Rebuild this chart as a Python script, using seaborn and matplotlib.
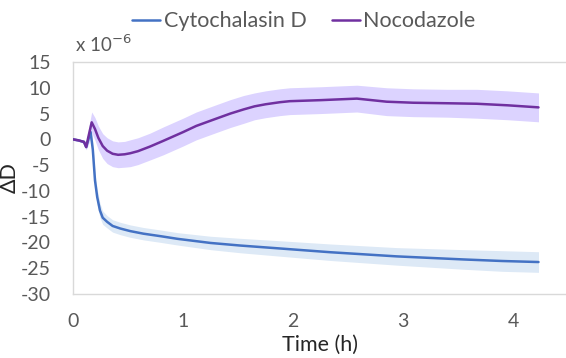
import matplotlib
matplotlib.use("Agg")
import matplotlib.pyplot as plt
import seaborn as sns
import pandas as pd

# Nocodazole response (units of 1e-6)
noco_time = [0, 0.05, 0.10, 0.12, 0.14, 0.17, 0.20, 0.23, 0.27, 0.31, 0.36, 0.41,
             0.47, 0.52, 0.59, 0.7, 0.82, 1.0, 1.12, 1.3, 1.43, 1.55, 1.65, 1.75,
             1.88, 1.97, 2.25, 2.58, 2.85, 3.09, 3.4, 3.67, 3.95, 4.23]
noco_mean = [0, -0.2, -0.5, -1.5, 0.5, 3.3, 2.0, 0.3, -1.3, -2.2, -2.8, -3.0,
             -2.9, -2.7, -2.3, -1.4, -0.3, 1.4, 2.6, 4.0, 5.0, 5.8, 6.4, 6.8,
             7.2, 7.4, 7.6, 7.9, 7.3, 7.1, 7.0, 6.9, 6.6, 6.2]
noco_sd = [0.2, 0.2, 0.3, 0.5, 1.5, 2.0, 2.2, 2.3, 2.4, 2.5, 2.5, 2.5,
           2.5, 2.6, 2.6, 2.6, 2.7, 2.7, 2.7, 2.7, 2.7, 2.7, 2.6, 2.6,
           2.6, 2.6, 2.6, 2.6, 2.7, 2.7, 2.7, 2.8, 2.8, 2.8]

# Cytochalasin D response (units of 1e-6)
cyto_time = [0, 0.05, 0.10, 0.12, 0.14, 0.16, 0.18, 0.20, 0.22, 0.245, 0.27, 0.31,
             0.36, 0.43, 0.52, 0.64, 0.8, 0.95, 1.25, 1.52, 1.9, 2.34, 2.94, 3.55,
             3.9, 4.23]
cyto_mean = [0, -0.2, -0.5, -1.5, 0.0, 1.4, -2, -8, -11.2, -13.8, -15.2, -16.0,
             -16.8, -17.3, -17.8, -18.3, -18.8, -19.3, -20.1, -20.6, -21.2, -21.9,
             -22.7, -23.3, -23.6, -23.8]
cyto_sd = [0.2, 0.2, 0.3, 0.5, 0.8, 1.2, 1.5, 1.5, 1.5, 1.4, 1.3, 1.2,
           1.2, 1.2, 1.2, 1.2, 1.2, 1.2, 1.3, 1.4, 1.5, 1.6, 1.7, 1.9,
           2.0, 2.0]

labels = ["Cytochalasin D", "Nocodazole"]
y_ticks = [-30, -25, -20, -15, -10, -5, 0, 5, 10, 15]
x_ticks = [0, 1, 2, 3, 4]

line_colors = {"Cytochalasin D": "#4472C4", "Nocodazole": "#7030A0"}
band_colors = {"Cytochalasin D": "#DDE9F6", "Nocodazole": "#DCD3FF"}

sns.set_theme(style="white")
plt.rcParams["font.family"] = ["Lato", "DejaVu Sans"]
plt.rcParams["axes.unicode_minus"] = False

df = pd.concat([
    pd.DataFrame({"time": cyto_time, "value": cyto_mean, "sd": cyto_sd,
                  "treatment": labels[0]}),
    pd.DataFrame({"time": noco_time, "value": noco_mean, "sd": noco_sd,
                  "treatment": labels[1]}),
])

fig = plt.figure(figsize=(5.66, 3.58), dpi=100)
ax = fig.add_axes([73 / 566, 1 - 294 / 358, 1 - 73 / 566, (294 - 62) / 358])

for name in labels:
    sub = df[df["treatment"] == name]
    ax.fill_between(sub["time"], sub["value"] - sub["sd"], sub["value"] + sub["sd"],
                    color=band_colors[name], linewidth=0, zorder=1)

sns.lineplot(data=df, x="time", y="value", hue="treatment", hue_order=labels,
             palette=line_colors, linewidth=1.8, ax=ax, zorder=3,
             estimator=None, sort=True, legend=False)

ax.set_xlim(0, 4.48)
ax.set_ylim(-30, 15)
ax.set_xticks(x_ticks)
ax.set_yticks(y_ticks)
ax.tick_params(axis="y", length=0, labelsize=14, colors="#595959", pad=16)
ax.tick_params(axis="x", length=0, labelsize=14, colors="#595959", pad=14)

for side in ["left", "bottom", "top"]:
    ax.spines[side].set_color("#D9D9D9")
    ax.spines[side].set_linewidth(1.0)
ax.spines["right"].set_visible(False)

ax.set_xlabel("Time (h)", fontsize=15.5, color="#262626", labelpad=3)
ax.set_ylabel("ΔD", fontsize=15.5, color="#262626")
ax.yaxis.set_label_coords(-0.108, 0.5)
ax.text(0.005, 1.03, "x 10$^{-6}$", transform=ax.transAxes, fontsize=13.5,
        color="#595959", ha="left", va="bottom")

handles = [plt.Line2D([], [], color=line_colors[n], linewidth=1.8) for n in labels]
fig.legend(handles, labels, loc="center", bbox_to_anchor=(0.537, 0.94), ncol=2,
           frameon=False, fontsize=15.5, handlelength=1.3, handletextpad=0.15,
           columnspacing=1.2, labelcolor="#595959")

fig.savefig("out.png", dpi=100)
